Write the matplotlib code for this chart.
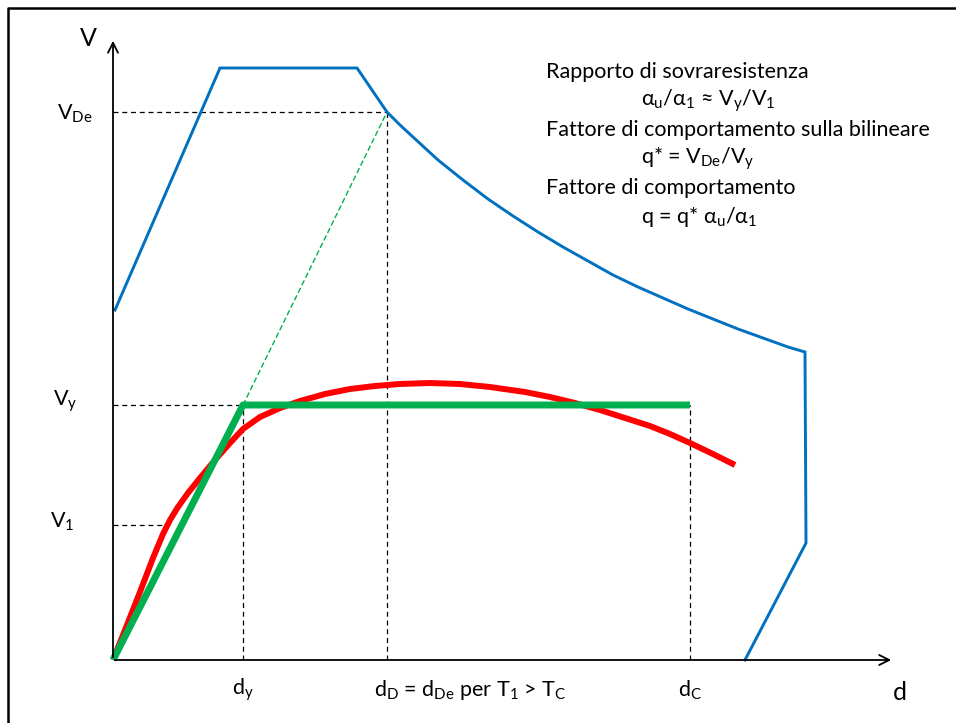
import matplotlib
matplotlib.use("Agg")
import matplotlib.pyplot as plt

plt.rcParams['font.family'] = ['Lato', 'DejaVu Sans']
plt.rcParams['mathtext.fontset'] = 'custom'
plt.rcParams['mathtext.rm'] = 'Lato'
plt.rcParams['mathtext.it'] = 'Lato'
plt.rcParams['mathtext.bf'] = 'Lato:bold'

# ---- data (d, V in drawing units from origin) ----
spectrum_d = [2, 107, 244, 274, 287, 300, 325, 350, 375, 400, 425, 450, 475, 500, 525,
              550, 575, 600, 625, 650, 675, 692, 693, 632]
spectrum_V = [350, 592, 592, 548, 535, 523, 500, 480, 461, 444, 428, 413, 399, 385, 373,
              362, 351, 341, 331, 322, 313, 308, 117, 0]

capacity_d = [0, 14, 27, 40, 50, 57, 65, 75, 87, 102, 117, 130, 147, 167, 187, 212, 237,
              262, 287, 317, 347, 377, 412, 437, 462, 487, 512, 537, 557, 577, 600, 622]
capacity_V = [0, 35, 68, 102, 126, 140, 153, 167, 182, 200, 217, 231, 243, 252, 259, 266,
              271, 274, 276, 277, 276, 273, 268, 263, 257, 250, 242, 234, 226, 217, 206, 195]

bilinear_d = [0, 130, 577]
bilinear_V = [0, 255, 255]

d_y, d_D, d_C = 130, 274, 577
V_De, V_y, V_1 = 548, 255, 135
d_V1 = 54

text_lines = [
    ("Rapporto di sovraresistenza", 0),
    (r"$\mathrm{α_u/α_1}$ ≈ $\mathrm{V_y/V_1}$", 1),
    ("Fattore di comportamento sulla bilineare", 0),
    (r"q* = $\mathrm{V_{De}/V_y}$", 1),
    ("Fattore di comportamento", 0),
    (r"q = q* $\mathrm{α_u/α_1}$", 1),
]

fig = plt.figure(figsize=(9.56, 7.23), dpi=100)
ax = fig.add_axes([0, 0, 1, 1])
ax.set_xlim(-113, 956 - 113)
ax.set_ylim(660 - 723, 660)
ax.axis('off')

# frame
ax.plot([-105, -105, 860], [-80, 652, 652], color='black', lw=1.8, solid_capstyle='butt')

# axes with arrows
ax.annotate('', xy=(0, 622), xytext=(0, 0),
            arrowprops=dict(arrowstyle='->', color='black', lw=1.3, mutation_scale=18))
ax.annotate('', xy=(781, 0), xytext=(-1, 0),
            arrowprops=dict(arrowstyle='->', color='black', lw=1.3, mutation_scale=18))
ax.text(-25, 622, "V", fontsize=18, ha='center', va='center')
ax.text(787, -32, "d", fontsize=18, ha='center', va='center')

# dashed reference lines
dk = dict(color='black', lw=0.9, ls=(0, (4, 3)))
ax.plot([0, d_D], [V_De, V_De], **dk)
ax.plot([d_D, d_D], [0, V_De], **dk)
ax.plot([0, d_y], [V_y, V_y], **dk)
ax.plot([d_y, d_y], [0, V_y], **dk)
ax.plot([0, d_V1], [V_1, V_1], **dk)
ax.plot([d_C, d_C], [0, V_y], **dk)

# green dashed extension
ax.plot([d_y, d_D], [V_y, V_De], color='#00B050', lw=1.0, ls=(0, (4, 2)))

# spectrum
ax.plot(spectrum_d, spectrum_V, color='#0070C0', lw=2.1, solid_joinstyle='miter')

# capacity curve
ax.plot(capacity_d, capacity_V, color='#FF0000', lw=4.3, solid_capstyle='butt',
        solid_joinstyle='round')

# bilinear
ax.plot(bilinear_d, bilinear_V, color='#00B050', lw=5, solid_capstyle='butt')

# labels on axes
fs = 15.5
ax.text(-38, V_De - 2, r"$\mathrm{V_{De}}$", fontsize=fs, ha='center', va='center')
ax.text(-48, V_y + 4, r"$\mathrm{V_y}$", fontsize=fs, ha='center', va='center')
ax.text(-51, V_1 + 3, r"$\mathrm{V_1}$", fontsize=fs, ha='center', va='center')
ax.text(d_y, -30, r"$\mathrm{d_y}$", fontsize=fs, ha='center', va='center')
ax.text(357, -30, r"$\mathrm{d_D}$ = $\mathrm{d_{De}}$ per $\mathrm{T_1}$ > $\mathrm{T_C}$",
        fontsize=fs, ha='center', va='center')
ax.text(d_C, -30, r"$\mathrm{d_C}$", fontsize=fs, ha='center', va='center')

# text block
y0 = 588
for i, (s, ind) in enumerate(text_lines):
    x = 433 + 95 * ind
    ax.text(x, y0 - 29 * i, s, fontsize=fs, ha='left', va='center')

fig.savefig("out.png", dpi=100)
